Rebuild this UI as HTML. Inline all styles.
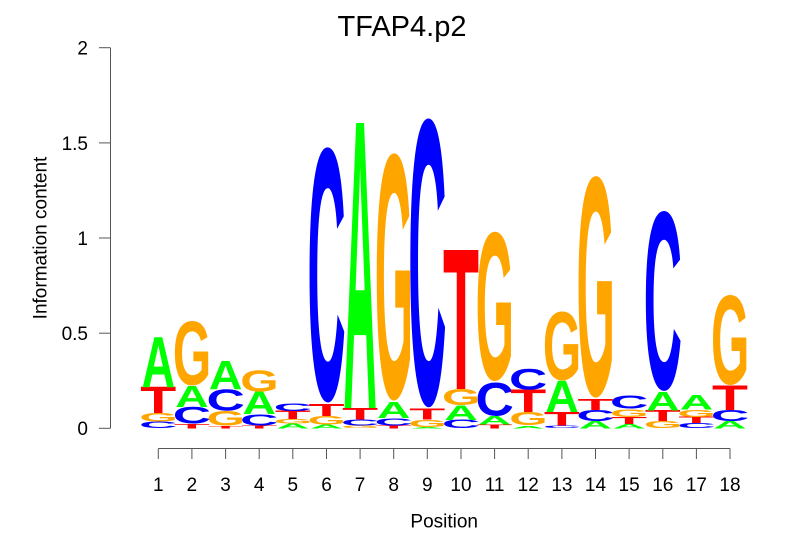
<!DOCTYPE html>
<html>
<head>
<meta charset="utf-8">
<style>
html,body{margin:0;padding:0;background:#fff;}
svg{display:block;}
svg svg{overflow:visible;}
.lab{font-family:"Liberation Sans",sans-serif;font-size:19px;fill:#000;}
.ttl{font-family:"Liberation Sans",sans-serif;font-size:29px;fill:#000;}
.L{font-family:"Liberation Sans",sans-serif;font-weight:bold;font-size:100px;}
.a{fill:#00ff00}.c{fill:#0000ff}.g{fill:#ffa500}.t{fill:#ff0000}
</style>
</head>
<body>
<svg width="806" height="559" viewBox="0 0 806 559" xmlns="http://www.w3.org/2000/svg">
<rect width="806" height="559" fill="#fff"/>
<text class="ttl" x="402" y="36" text-anchor="middle">TFAP4.p2</text>

<!-- Y axis -->
<g stroke="#555" stroke-width="1" fill="none">
<line x1="110.5" y1="47.7" x2="110.5" y2="428.3"/>
<line x1="99" y1="428.3" x2="110.5" y2="428.3"/>
<line x1="99" y1="333.2" x2="110.5" y2="333.2"/>
<line x1="99" y1="238" x2="110.5" y2="238"/>
<line x1="99" y1="142.9" x2="110.5" y2="142.9"/>
<line x1="99" y1="47.7" x2="110.5" y2="47.7"/>
</g>
<g class="lab" text-anchor="end">
<text x="88" y="435">0</text>
<text x="88" y="340">0.5</text>
<text x="88" y="245">1</text>
<text x="88" y="150">1.5</text>
<text x="88" y="54.5">2</text>
</g>
<text class="lab" transform="translate(46.5,238) rotate(-90)" text-anchor="middle">Information content</text>

<!-- X axis -->
<g stroke="#555" stroke-width="1" fill="none">
<line x1="158.3" y1="448.5" x2="730" y2="448.5"/>
<line x1="158.3" y1="448.5" x2="158.3" y2="459"/>
<line x1="191.9" y1="448.5" x2="191.9" y2="459"/>
<line x1="225.6" y1="448.5" x2="225.6" y2="459"/>
<line x1="259.2" y1="448.5" x2="259.2" y2="459"/>
<line x1="292.8" y1="448.5" x2="292.8" y2="459"/>
<line x1="326.5" y1="448.5" x2="326.5" y2="459"/>
<line x1="360.1" y1="448.5" x2="360.1" y2="459"/>
<line x1="393.7" y1="448.5" x2="393.7" y2="459"/>
<line x1="427.3" y1="448.5" x2="427.3" y2="459"/>
<line x1="461" y1="448.5" x2="461" y2="459"/>
<line x1="494.6" y1="448.5" x2="494.6" y2="459"/>
<line x1="528.2" y1="448.5" x2="528.2" y2="459"/>
<line x1="561.9" y1="448.5" x2="561.9" y2="459"/>
<line x1="595.5" y1="448.5" x2="595.5" y2="459"/>
<line x1="629.1" y1="448.5" x2="629.1" y2="459"/>
<line x1="662.8" y1="448.5" x2="662.8" y2="459"/>
<line x1="696.4" y1="448.5" x2="696.4" y2="459"/>
<line x1="730" y1="448.5" x2="730" y2="459"/>
</g>
<g class="lab" text-anchor="middle">
<text x="158.3" y="491">1</text>
<text x="191.9" y="491">2</text>
<text x="225.6" y="491">3</text>
<text x="259.2" y="491">4</text>
<text x="292.8" y="491">5</text>
<text x="326.5" y="491">6</text>
<text x="360.1" y="491">7</text>
<text x="393.7" y="491">8</text>
<text x="427.3" y="491">9</text>
<text x="461" y="491">10</text>
<text x="494.6" y="491">11</text>
<text x="528.2" y="491">12</text>
<text x="561.9" y="491">13</text>
<text x="595.5" y="491">14</text>
<text x="629.1" y="491">15</text>
<text x="662.8" y="491">16</text>
<text x="696.4" y="491">17</text>
<text x="730" y="491">18</text>
</g>
<text class="lab" x="444.2" y="527.3" text-anchor="middle">Position</text>

<!-- Logo letters -->
<g class="L">
<!-- col 1 -->
<svg x="141.6" y="421.5" width="33.4" height="6.8" viewBox="4.6 -70.2 62.9 71.6" preserveAspectRatio="none"><text class="c">C</text></svg>
<svg x="141.6" y="413" width="33.4" height="8.5" viewBox="4.6 -70.2 67.7 71.6" preserveAspectRatio="none"><text class="g">G</text></svg>
<svg x="141.6" y="387" width="33.4" height="26" viewBox="2.2 -68.8 56.7 68.8" preserveAspectRatio="none"><text class="t">T</text></svg>
<svg x="141.6" y="337" width="33.4" height="50" viewBox="0 -68.8 72.1 68.8" preserveAspectRatio="none"><text class="a">A</text></svg>
<!-- col 2 -->
<svg x="175.2" y="424" width="33.4" height="4.3" viewBox="2.2 -68.8 56.7 68.8" preserveAspectRatio="none"><text class="t">T</text></svg>
<svg x="175.2" y="407" width="33.4" height="17" viewBox="4.6 -70.2 62.9 71.6" preserveAspectRatio="none"><text class="c">C</text></svg>
<svg x="175.2" y="386" width="33.4" height="21" viewBox="0 -68.8 72.1 68.8" preserveAspectRatio="none"><text class="a">A</text></svg>
<svg x="175.2" y="321" width="33.4" height="65" viewBox="4.6 -70.2 67.7 71.6" preserveAspectRatio="none"><text class="g">G</text></svg>
<!-- col 3 -->
<svg x="208.9" y="426" width="33.4" height="2.3" viewBox="2.2 -68.8 56.7 68.8" preserveAspectRatio="none"><text class="t">T</text></svg>
<svg x="208.9" y="411" width="33.4" height="15" viewBox="4.6 -70.2 67.7 71.6" preserveAspectRatio="none"><text class="g">G</text></svg>
<svg x="208.9" y="389" width="33.4" height="22" viewBox="4.6 -70.2 62.9 71.6" preserveAspectRatio="none"><text class="c">C</text></svg>
<svg x="208.9" y="361" width="33.4" height="28" viewBox="0 -68.8 72.1 68.8" preserveAspectRatio="none"><text class="a">A</text></svg>
<!-- col 4 -->
<svg x="242.5" y="425.5" width="33.4" height="2.8" viewBox="2.2 -68.8 56.7 68.8" preserveAspectRatio="none"><text class="t">T</text></svg>
<svg x="242.5" y="414" width="33.4" height="11.5" viewBox="4.6 -70.2 62.9 71.6" preserveAspectRatio="none"><text class="c">C</text></svg>
<svg x="242.5" y="392" width="33.4" height="22" viewBox="0 -68.8 72.1 68.8" preserveAspectRatio="none"><text class="a">A</text></svg>
<svg x="242.5" y="370" width="33.4" height="22" viewBox="4.6 -70.2 67.7 71.6" preserveAspectRatio="none"><text class="g">G</text></svg>
<!-- col 5 -->
<svg x="276.1" y="423.5" width="33.4" height="4.8" viewBox="0 -68.8 72.1 68.8" preserveAspectRatio="none"><text class="a">A</text></svg>
<svg x="276.1" y="419" width="33.4" height="4.5" viewBox="4.6 -70.2 67.7 71.6" preserveAspectRatio="none"><text class="g">G</text></svg>
<svg x="276.1" y="411" width="33.4" height="8" viewBox="2.2 -68.8 56.7 68.8" preserveAspectRatio="none"><text class="t">T</text></svg>
<svg x="276.1" y="403" width="33.4" height="8" viewBox="4.6 -70.2 62.9 71.6" preserveAspectRatio="none"><text class="c">C</text></svg>
<!-- col 6 -->
<svg x="309.8" y="424.5" width="33.4" height="3.8" viewBox="0 -68.8 72.1 68.8" preserveAspectRatio="none"><text class="a">A</text></svg>
<svg x="309.8" y="416" width="33.4" height="8.5" viewBox="4.6 -70.2 67.7 71.6" preserveAspectRatio="none"><text class="g">G</text></svg>
<svg x="309.8" y="404" width="33.4" height="12" viewBox="2.2 -68.8 56.7 68.8" preserveAspectRatio="none"><text class="t">T</text></svg>
<svg x="309.8" y="146" width="33.4" height="258" viewBox="4.6 -70.2 62.9 71.6" preserveAspectRatio="none"><text class="c">C</text></svg>
<!-- col 7 -->
<svg x="343.4" y="425.5" width="33.4" height="2.8" viewBox="4.6 -70.2 67.7 71.6" preserveAspectRatio="none"><text class="g">G</text></svg>
<svg x="343.4" y="419.5" width="33.4" height="6" viewBox="4.6 -70.2 62.9 71.6" preserveAspectRatio="none"><text class="c">C</text></svg>
<svg x="343.4" y="408" width="33.4" height="11.5" viewBox="2.2 -68.8 56.7 68.8" preserveAspectRatio="none"><text class="t">T</text></svg>
<svg x="343.4" y="123" width="33.4" height="285" viewBox="0 -68.8 72.1 68.8" preserveAspectRatio="none"><text class="a">A</text></svg>
<!-- col 8 -->
<svg x="377" y="425.5" width="33.4" height="2.8" viewBox="2.2 -68.8 56.7 68.8" preserveAspectRatio="none"><text class="t">T</text></svg>
<svg x="377" y="418" width="33.4" height="7.5" viewBox="4.6 -70.2 62.9 71.6" preserveAspectRatio="none"><text class="c">C</text></svg>
<svg x="377" y="402" width="33.4" height="16" viewBox="0 -68.8 72.1 68.8" preserveAspectRatio="none"><text class="a">A</text></svg>
<svg x="377" y="152" width="33.4" height="250" viewBox="4.6 -70.2 67.7 71.6" preserveAspectRatio="none"><text class="g">G</text></svg>
<!-- col 9 -->
<svg x="410.6" y="427" width="33.4" height="1.3" viewBox="0 -68.8 72.1 68.8" preserveAspectRatio="none"><text class="a">A</text></svg>
<svg x="410.6" y="419.5" width="33.4" height="7.5" viewBox="4.6 -70.2 67.7 71.6" preserveAspectRatio="none"><text class="g">G</text></svg>
<svg x="410.6" y="409" width="33.4" height="10.5" viewBox="2.2 -68.8 56.7 68.8" preserveAspectRatio="none"><text class="t">T</text></svg>
<svg x="410.6" y="117" width="33.4" height="292" viewBox="4.6 -70.2 62.9 71.6" preserveAspectRatio="none"><text class="c">C</text></svg>
<!-- col 10 -->
<svg x="444.3" y="420" width="33.4" height="8.3" viewBox="4.6 -70.2 62.9 71.6" preserveAspectRatio="none"><text class="c">C</text></svg>
<svg x="444.3" y="405.5" width="33.4" height="14.5" viewBox="0 -68.8 72.1 68.8" preserveAspectRatio="none"><text class="a">A</text></svg>
<svg x="444.3" y="389" width="33.4" height="16.5" viewBox="4.6 -70.2 67.7 71.6" preserveAspectRatio="none"><text class="g">G</text></svg>
<svg x="444.3" y="250" width="33.4" height="139" viewBox="2.2 -68.8 56.7 68.8" preserveAspectRatio="none"><text class="t">T</text></svg>
<!-- col 11 -->
<svg x="477.9" y="424.5" width="33.4" height="3.8" viewBox="2.2 -68.8 56.7 68.8" preserveAspectRatio="none"><text class="t">T</text></svg>
<svg x="477.9" y="416" width="33.4" height="8.5" viewBox="0 -68.8 72.1 68.8" preserveAspectRatio="none"><text class="a">A</text></svg>
<svg x="477.9" y="382" width="33.4" height="34" viewBox="4.6 -70.2 62.9 71.6" preserveAspectRatio="none"><text class="c">C</text></svg>
<svg x="477.9" y="231" width="33.4" height="151" viewBox="4.6 -70.2 67.7 71.6" preserveAspectRatio="none"><text class="g">G</text></svg>
<!-- col 12 -->
<svg x="511.5" y="425.5" width="33.4" height="2.8" viewBox="0 -68.8 72.1 68.8" preserveAspectRatio="none"><text class="a">A</text></svg>
<svg x="511.5" y="412" width="33.4" height="13.5" viewBox="4.6 -70.2 67.7 71.6" preserveAspectRatio="none"><text class="g">G</text></svg>
<svg x="511.5" y="390" width="33.4" height="22" viewBox="2.2 -68.8 56.7 68.8" preserveAspectRatio="none"><text class="t">T</text></svg>
<svg x="511.5" y="369" width="33.4" height="21" viewBox="4.6 -70.2 62.9 71.6" preserveAspectRatio="none"><text class="c">C</text></svg>
<!-- col 13 -->
<svg x="545.2" y="425.5" width="33.4" height="2.8" viewBox="4.6 -70.2 62.9 71.6" preserveAspectRatio="none"><text class="c">C</text></svg>
<svg x="545.2" y="412" width="33.4" height="13.5" viewBox="2.2 -68.8 56.7 68.8" preserveAspectRatio="none"><text class="t">T</text></svg>
<svg x="545.2" y="381" width="33.4" height="31" viewBox="0 -68.8 72.1 68.8" preserveAspectRatio="none"><text class="a">A</text></svg>
<svg x="545.2" y="311" width="33.4" height="70" viewBox="4.6 -70.2 67.7 71.6" preserveAspectRatio="none"><text class="g">G</text></svg>
<!-- col 14 -->
<svg x="578.8" y="421" width="33.4" height="7.3" viewBox="0 -68.8 72.1 68.8" preserveAspectRatio="none"><text class="a">A</text></svg>
<svg x="578.8" y="410" width="33.4" height="11" viewBox="4.6 -70.2 62.9 71.6" preserveAspectRatio="none"><text class="c">C</text></svg>
<svg x="578.8" y="399" width="33.4" height="11" viewBox="2.2 -68.8 56.7 68.8" preserveAspectRatio="none"><text class="t">T</text></svg>
<svg x="578.8" y="175" width="33.4" height="224" viewBox="4.6 -70.2 67.7 71.6" preserveAspectRatio="none"><text class="g">G</text></svg>
<!-- col 15 -->
<svg x="612.4" y="424" width="33.4" height="4.3" viewBox="0 -68.8 72.1 68.8" preserveAspectRatio="none"><text class="a">A</text></svg>
<svg x="612.4" y="417" width="33.4" height="7" viewBox="2.2 -68.8 56.7 68.8" preserveAspectRatio="none"><text class="t">T</text></svg>
<svg x="612.4" y="409" width="33.4" height="8" viewBox="4.6 -70.2 67.7 71.6" preserveAspectRatio="none"><text class="g">G</text></svg>
<svg x="612.4" y="396" width="33.4" height="13" viewBox="4.6 -70.2 62.9 71.6" preserveAspectRatio="none"><text class="c">C</text></svg>
<!-- col 16 -->
<svg x="646.1" y="421" width="33.4" height="7.3" viewBox="4.6 -70.2 67.7 71.6" preserveAspectRatio="none"><text class="g">G</text></svg>
<svg x="646.1" y="410.5" width="33.4" height="10.5" viewBox="2.2 -68.8 56.7 68.8" preserveAspectRatio="none"><text class="t">T</text></svg>
<svg x="646.1" y="392" width="33.4" height="18.5" viewBox="0 -68.8 72.1 68.8" preserveAspectRatio="none"><text class="a">A</text></svg>
<svg x="646.1" y="210" width="33.4" height="182" viewBox="4.6 -70.2 62.9 71.6" preserveAspectRatio="none"><text class="c">C</text></svg>
<!-- col 17 -->
<svg x="679.7" y="423" width="33.4" height="5.3" viewBox="4.6 -70.2 62.9 71.6" preserveAspectRatio="none"><text class="c">C</text></svg>
<svg x="679.7" y="417" width="33.4" height="6" viewBox="2.2 -68.8 56.7 68.8" preserveAspectRatio="none"><text class="t">T</text></svg>
<svg x="679.7" y="409.5" width="33.4" height="7.5" viewBox="4.6 -70.2 67.7 71.6" preserveAspectRatio="none"><text class="g">G</text></svg>
<svg x="679.7" y="395" width="33.4" height="14.5" viewBox="0 -68.8 72.1 68.8" preserveAspectRatio="none"><text class="a">A</text></svg>
<!-- col 18 -->
<svg x="713.3" y="421" width="33.4" height="7.3" viewBox="0 -68.8 72.1 68.8" preserveAspectRatio="none"><text class="a">A</text></svg>
<svg x="713.3" y="410" width="33.4" height="11" viewBox="4.6 -70.2 62.9 71.6" preserveAspectRatio="none"><text class="c">C</text></svg>
<svg x="713.3" y="386" width="33.4" height="24" viewBox="2.2 -68.8 56.7 68.8" preserveAspectRatio="none"><text class="t">T</text></svg>
<svg x="713.3" y="295" width="33.4" height="91" viewBox="4.6 -70.2 67.7 71.6" preserveAspectRatio="none"><text class="g">G</text></svg>
</g>
</svg>
</body>
</html>
